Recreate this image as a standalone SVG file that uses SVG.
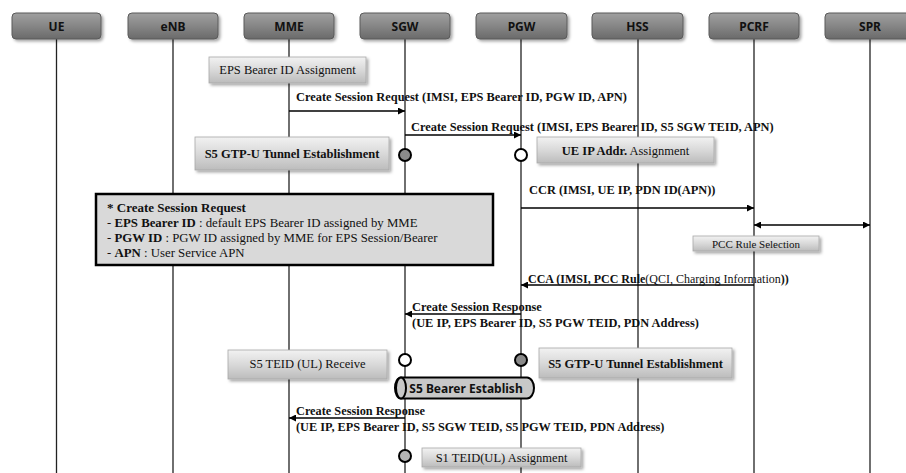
<svg xmlns="http://www.w3.org/2000/svg" width="906" height="473" viewBox="0 0 906 473">
  <defs>
    <linearGradient id="hdrFill" x1="0" y1="0" x2="0" y2="1">
      <stop offset="0" stop-color="#a0a0a0"/>
      <stop offset="0.5" stop-color="#868686"/>
      <stop offset="1" stop-color="#6a6a6a"/>
    </linearGradient>
    <linearGradient id="boxFill" x1="0" y1="0" x2="0" y2="1">
      <stop offset="0" stop-color="#f2f2f2"/>
      <stop offset="0.5" stop-color="#d9d9d9"/>
      <stop offset="1" stop-color="#bcbcbc"/>
    </linearGradient>
    <filter id="shadow" x="-10%" y="-30%" width="120%" height="170%">
      <feDropShadow dx="2" dy="2" stdDeviation="1.5" flood-color="#000" flood-opacity="0.35"/>
    </filter>
    <marker id="arrow" viewBox="0 0 10 10" refX="10" refY="5" markerWidth="9" markerHeight="7" markerUnits="userSpaceOnUse" orient="auto-start-reverse">
      <path d="M0,0 L10,5 L0,10 Z" fill="#000"/>
    </marker>
  </defs>
  <style>
    .hdr { fill: url(#hdrFill); stroke: #5a5a5a; stroke-width: 1; filter: url(#shadow); }
    .hdrText { font-family: "Noto Sans", "Open Sans", sans-serif; font-weight: bold; font-size: 12px; fill: #111; text-anchor: middle; }
    .life { stroke: #222; stroke-width: 1.3; fill: none; }
    .box { fill: url(#boxFill); stroke: #a8a8a8; stroke-width: 0.8; filter: url(#shadow); }
    .serif { font-family: "Liberation Serif", "Times New Roman", serif; fill: #111; }
    .b { font-weight: bold; }
    .mid { text-anchor: middle; }
    .msg { stroke: #000; stroke-width: 1.5; fill: none; marker-end: url(#arrow); }
    .both { marker-start: url(#arrow); }
    .dot { stroke: #000; stroke-width: 2; }
    .note { fill: #d9d9d9; stroke: #000; stroke-width: 2.5; }
  </style>
  <rect width="906" height="473" fill="#fff"/>

  <!-- lifelines with their header boxes -->
  <g id="UE">
    <line class="life" x1="56.5" y1="39" x2="56.5" y2="473"/>
    <rect class="hdr" x="12" y="13" width="89" height="26" rx="4"/>
    <text class="hdrText" x="56.5" y="30.5">UE</text>
  </g>
  <g id="eNB">
    <line class="life" x1="173" y1="39" x2="173" y2="473"/>
    <rect class="hdr" x="128" y="13" width="90" height="26" rx="4"/>
    <text class="hdrText" x="173" y="30.5">eNB</text>
  </g>
  <g id="MME">
    <line class="life" x1="289" y1="39" x2="289" y2="473"/>
    <rect class="hdr" x="244" y="13" width="90" height="26" rx="4"/>
    <text class="hdrText" x="289" y="30.5">MME</text>
  </g>
  <g id="SGW">
    <line class="life" x1="405" y1="39" x2="405" y2="473"/>
    <rect class="hdr" x="360" y="13" width="90" height="26" rx="4"/>
    <text class="hdrText" x="405" y="30.5">SGW</text>
  </g>
  <g id="PGW">
    <line class="life" x1="521" y1="39" x2="521" y2="473"/>
    <rect class="hdr" x="476" y="13" width="91" height="26" rx="4"/>
    <text class="hdrText" x="521.5" y="30.5">PGW</text>
  </g>
  <g id="HSS">
    <line class="life" x1="638" y1="39" x2="638" y2="473"/>
    <rect class="hdr" x="592" y="13" width="91" height="26" rx="4"/>
    <text class="hdrText" x="637.5" y="30.5">HSS</text>
  </g>
  <g id="PCRF">
    <line class="life" x1="754" y1="39" x2="754" y2="473"/>
    <rect class="hdr" x="709" y="13" width="90" height="26" rx="4"/>
    <text class="hdrText" x="754" y="30.5">PCRF</text>
  </g>
  <g id="SPR">
    <line class="life" x1="870" y1="39" x2="870" y2="473"/>
    <rect class="hdr" x="825" y="13" width="90" height="26" rx="4"/>
    <text class="hdrText" x="870" y="30.5">SPR</text>
  </g>

  <!-- messages -->
  <g id="connectors">
    <line class="msg" x1="289" y1="111" x2="405" y2="111"/>
    <text class="serif b" x="296" y="101" font-size="12.4">Create Session Request (IMSI, EPS Bearer ID, PGW ID, APN)</text>

    <line class="msg" x1="405" y1="135" x2="521" y2="135"/>
    <text class="serif b" x="411" y="131" font-size="12.4">Create Session Request (IMSI, EPS Bearer ID, S5 SGW TEID, APN)</text>

    <line class="msg" x1="521" y1="208" x2="754" y2="208"/>
    <text class="serif b" x="529" y="194" font-size="12.4">CCR (IMSI, UE IP, PDN ID(APN))</text>

    <line class="msg both" x1="754" y1="225" x2="870" y2="225"/>

    <line class="msg" x1="754" y1="285" x2="521" y2="285"/>
    <text class="serif" x="528" y="283" font-size="12"><tspan class="b">CCA (IMSI, PCC Rule</tspan>(QCI, Charging Information<tspan class="b">))</tspan></text>

    <line class="msg" x1="521" y1="314" x2="405" y2="314"/>
    <text class="serif b" x="412" y="311" font-size="12.4">Create Session Response</text>
    <text class="serif b" x="412" y="327" font-size="12.4">(UE IP, EPS Bearer ID, S5 PGW TEID, PDN Address)</text>

    <line class="msg" x1="405" y1="418" x2="289" y2="418"/>
    <text class="serif b" x="296" y="415" font-size="12.3">Create Session Response</text>
    <text class="serif b" x="296" y="431" font-size="12.3">(UE IP, EPS Bearer ID, S5 SGW TEID, S5 PGW TEID, PDN Address)</text>
  </g>

  <!-- processing steps -->
  <g id="eps-bearer-id-assignment">
    <rect class="box" x="209" y="57" width="157" height="26"/>
    <text class="serif mid" x="287.5" y="74" font-size="12.5">EPS Bearer ID Assignment</text>
  </g>

  <g id="sgw-tunnel-1">
    <rect class="box" x="195" y="137" width="194" height="33"/>
    <text class="serif b mid" x="292" y="158" font-size="12.5">S5 GTP-U Tunnel Establishment</text>
    <circle class="dot" cx="405" cy="155" r="6" fill="#8a8a8a"/>
  </g>

  <g id="ue-ip-assignment">
    <circle class="dot" cx="521" cy="155" r="6" fill="#fff"/>
    <rect class="box" x="537" y="137" width="177" height="26"/>
    <text class="serif mid" x="625.5" y="155" font-size="12.5"><tspan class="b">UE IP Addr.</tspan> Assignment</text>
  </g>

  <g id="pcc-rule-selection">
    <rect class="box" x="693" y="236" width="126" height="15"/>
    <text class="serif mid" x="756" y="247.5" font-size="11">PCC Rule Selection</text>
  </g>

  <g id="create-session-note">
    <rect class="note" x="96" y="194" width="397" height="71"/>
    <text class="serif b" x="107" y="212" font-size="13">* Create Session Request</text>
    <text class="serif" x="107" y="227" font-size="12.8">- <tspan class="b">EPS Bearer ID</tspan> : default EPS Bearer ID assigned by MME</text>
    <text class="serif" x="107" y="242" font-size="12.8">- <tspan class="b">PGW ID</tspan> : PGW ID assigned by MME for EPS Session/Bearer</text>
    <text class="serif" x="107" y="257" font-size="12.8">- <tspan class="b">APN</tspan> : User Service APN</text>
  </g>

  <g id="s5-teid-receive">
    <rect class="box" x="228" y="350" width="159" height="29"/>
    <text class="serif mid" x="307.5" y="368" font-size="12.5">S5 TEID (UL) Receive</text>
    <circle class="dot" cx="405" cy="360" r="6" fill="#fff"/>
  </g>

  <g id="pgw-tunnel-2">
    <circle class="dot" cx="521" cy="360" r="6" fill="#8a8a8a"/>
    <rect class="box" x="539" y="348" width="193" height="30"/>
    <text class="serif b mid" x="635.5" y="367.5" font-size="12.5">S5 GTP-U Tunnel Establishment</text>
  </g>

  <g id="s5-bearer-establish">
    <path d="M401,377.5 H527 A7,10.5 0 0 1 527,398.5 H401 A6,10.5 0 0 1 401,377.5 Z" fill="#c8c8c8" stroke="#000" stroke-width="2"/>
    <ellipse cx="401" cy="388" rx="5" ry="10.5" fill="#c8c8c8" stroke="#000" stroke-width="2"/>
    <text class="hdrText" x="466" y="393" font-size="13">S5 Bearer Establish</text>
  </g>

  <g id="s1-teid-assignment">
    <circle class="dot" cx="405" cy="456" r="6" fill="#b4b4b4"/>
    <rect class="box" x="422" y="448" width="159" height="19"/>
    <text class="serif mid" x="501.5" y="462" font-size="12.5">S1 TEID(UL) Assignment</text>
  </g>
</svg>
